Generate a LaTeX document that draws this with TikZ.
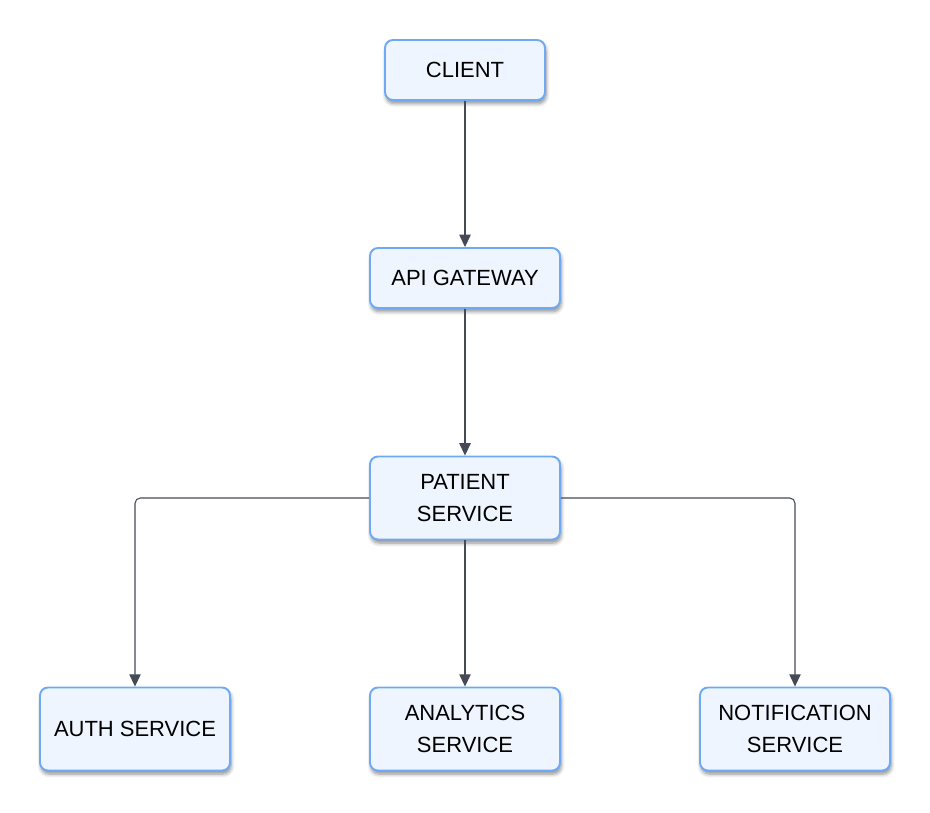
\documentclass[tikz,border=0pt]{standalone}
\usepackage{fontspec}
\setmainfont{Liberation Sans}
\usetikzlibrary{arrows.meta,shadows.blur}

\definecolor{boxfill}{HTML}{EEF5FE}
\definecolor{boxline}{HTML}{6EAAF4}
\definecolor{wire}{HTML}{454B55}

\begin{document}
\begin{tikzpicture}[->,>={Triangle[length=7pt,width=6.5pt]},draw=wire,semithick,node distance=4.4cm]
	\tikzstyle{service}=[draw=boxline,fill=boxfill,line width=1.1pt,rounded corners=4.5pt,
		minimum width=3.8cm,minimum height=1.2cm,align=center,text=black,
		font=\fontsize{12.5}{18}\selectfont,
		blur shadow={shadow xshift=0.6pt,shadow yshift=-2pt,shadow blur steps=6,shadow opacity=45}]

	\useasboundingbox (0,0) rectangle (18.6,-16.24);

	\node[service,minimum width=3.2cm] (client) at (9.3,-1.4) {CLIENT};
	\node[service] (gateway) [below of=client,node distance=4.16cm] {API GATEWAY};
	\node[service,minimum height=1.66cm] (patient) [below of=gateway] {PATIENT\\SERVICE};
	\node[service,minimum height=1.66cm] (analytics) [below of=patient,node distance=4.62cm] {ANALYTICS\\SERVICE};
	\node[service,minimum height=1.66cm] (auth) [left of=analytics,node distance=6.6cm] {AUTH SERVICE};
	\node[service,minimum height=1.66cm] (notify) [right of=analytics,node distance=6.6cm] {NOTIFICATION\\SERVICE};

	\path (client) edge (gateway);
	\path (gateway) edge (patient);
	\path (patient) edge (analytics);
	\draw[rounded corners=3pt] (patient.west) -| (auth);
	\draw[rounded corners=3pt] (patient.east) -| (notify);
\end{tikzpicture}
\end{document}
